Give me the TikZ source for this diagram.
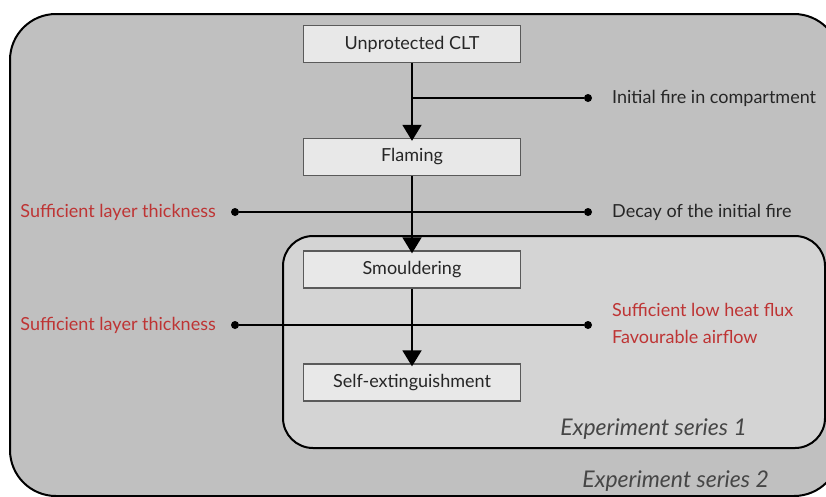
\documentclass[tikz,border=0pt]{standalone}
\usepackage{fontspec}
\setmainfont{Lato}
\usetikzlibrary{arrows.meta}
\definecolor{outerfill}{RGB}{192,192,192}
\definecolor{innerfill}{RGB}{212,212,212}
\definecolor{boxfill}{RGB}{232,232,232}
\definecolor{boxline}{RGB}{90,90,90}
\definecolor{redtext}{RGB}{190,52,52}
\definecolor{greytext}{RGB}{70,70,70}
\tikzset{
  stage/.style={draw=boxline, line width=1.4pt, fill=boxfill, minimum width=217pt, minimum height=37pt, inner sep=0pt, font=\fontsize{18}{21}\selectfont, text=black!85},
  flow/.style={line width=2pt, -{Triangle[width=19pt,length=16pt]}},
  link/.style={line width=2pt},
  dot/.style={circle, fill=black, inner sep=0pt, minimum size=8pt},
  lbl/.style={font=\fontsize{18}{21}\selectfont, text=black!85, inner sep=0pt},
  redlbl/.style={font=\fontsize{18}{21}\selectfont, text=redtext, inner sep=0pt},
  series/.style={font=\fontsize{23}{26}\itshape\selectfont, text=greytext, inner sep=0pt}
}
\begin{document}
\begin{tikzpicture}[x=1pt,y=-1pt]
\useasboundingbox (0,0) rectangle (826,496);
\clip (0,0) rectangle (826,496);
\draw[line width=2pt, fill=outerfill, rounded corners=46pt] (10,14) rectangle (840,496);
\draw[line width=2pt, fill=innerfill, rounded corners=30pt] (283,236) rectangle (825,448);
\node[stage] (clt) at (412,44) {Unprotected CLT};
\node[stage] (flam) at (412,157) {Flaming};
\node[stage] (smou) at (412,269.5) {Smouldering};
\node[stage] (self) at (412,382.5) {Self-extinguishment};
\node[dot] (d1) at (588,98) {};
\node[dot] (d2l) at (235,212) {};
\node[dot] (d2r) at (588,212) {};
\node[dot] (d3l) at (235,325) {};
\node[dot] (d3r) at (588,325) {};
\coordinate (j1) at (412,98);
\draw[link] (j1) -- (d1);
\draw[link] (d2l) -- (d2r);
\draw[link] (d3l) -- (d3r);
\draw[flow] (clt.south) -- ([yshift=-3pt]flam.north);
\draw[flow] (flam.south) -- ([yshift=-3pt]smou.north);
\draw[flow] (smou.south) -- ([yshift=-3pt]self.north);
\node[lbl, anchor=west] (t1) at (612,98) {Initial fire in compartment};
\node[lbl, anchor=west] (t2) at (612,212) {Decay of the initial fire};
\node[redlbl, anchor=east] (t3) at (216,212) {Sufficient layer thickness};
\node[redlbl, anchor=east] (t4) at (216,325) {Sufficient layer thickness};
\node[redlbl, anchor=west] (t5) at (612,310) {Sufficient low heat flux};
\node[redlbl, anchor=west] (t6) at (612,337) {Favourable airflow};
\node[series, anchor=east] (s1) at (747,429) {Experiment series 1};
\node[series, anchor=east] (s2) at (769,481) {Experiment series 2};
\end{tikzpicture}
\end{document}
